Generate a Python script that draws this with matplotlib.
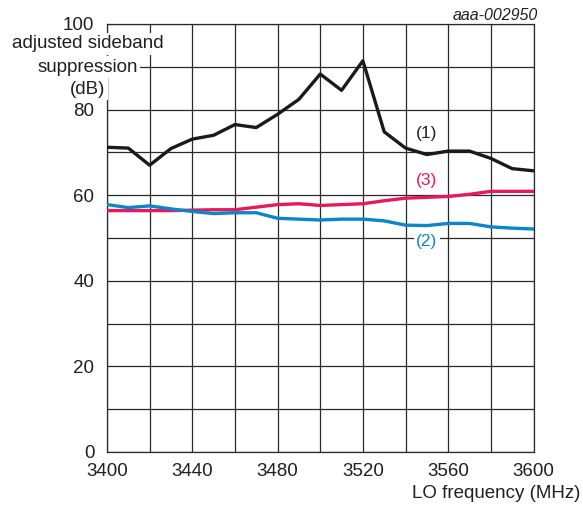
import matplotlib
matplotlib.use("Agg")
import matplotlib.pyplot as plt

plt.rcParams['font.family'] = ['Liberation Sans', 'DejaVu Sans']

freq = list(range(3400, 3601, 10))
curve1 = [71.2, 71.0, 67.0, 70.9, 73.1, 74.0, 76.5, 75.8, 78.9, 82.4, 88.3,
          84.5, 91.4, 74.8, 71.0, 69.5, 70.3, 70.3, 68.6, 66.2, 65.7]
curve2 = [57.8, 57.1, 57.5, 56.8, 56.2, 55.7, 55.9, 55.9, 54.6, 54.4, 54.2,
          54.4, 54.4, 54.0, 53.0, 52.9, 53.4, 53.4, 52.6, 52.3, 52.1]
curve3 = [56.4, 56.4, 56.4, 56.4, 56.5, 56.6, 56.6, 57.2, 57.8, 58.0, 57.6,
          57.8, 58.0, 58.7, 59.3, 59.5, 59.7, 60.2, 60.9, 60.9, 60.9]

xticks = [3400, 3440, 3480, 3520, 3560, 3600]
yticks = [0, 20, 40, 60, 80, 100]

txt = '#231f20'
fig = plt.figure(figsize=(5.83, 5.07), dpi=100)
ax = fig.add_axes([0.1835, 0.1085, 0.7316, 0.8442])

ax.plot(freq, curve1, color='#1a1a1a', lw=2.4, zorder=3)
ax.plot(freq, curve3, color='#e8185c', lw=2.4, zorder=3)
ax.plot(freq, curve2, color='#0a87c8', lw=2.4, zorder=3)

ax.set_xlim(3400, 3600)
ax.set_ylim(0, 100)
ax.set_xticks(range(3400, 3601, 20))
ax.set_yticks(range(0, 101, 10))
ax.grid(True, color='#2a2a2a', lw=0.9)
ax.set_xticklabels([str(v) if v in xticks else '' for v in range(3400, 3601, 20)])
ax.set_yticklabels([str(v) if v in yticks else '' for v in range(0, 101, 10)])
ax.tick_params(length=0, labelsize=13.5, labelcolor=txt)
ax.tick_params(axis='x', pad=8)
ax.tick_params(axis='y', pad=9)
for s in ax.spines.values():
    s.set_color('#2a2a2a')
    s.set_linewidth(0.9)

ax.text(3550, 74.3, '(1)', color=txt, fontsize=12.5, ha='center', va='center')
ax.text(3550, 63.4, '(3)', color='#e8185c', fontsize=12.5, ha='center', va='center')
ax.text(3550, 49.2, '(2)', color='#0a87c8', fontsize=12.5, ha='center', va='center',
        bbox=dict(facecolor='white', edgecolor='none', pad=1.5), zorder=4)

for label, yy in [('adjusted sideband', 44), ('suppression', 67), ('(dB)', 89)]:
    fig.text(88 / 583, 1 - yy / 507, label, color=txt, fontsize=13.5,
             ha='center', va='center',
             bbox=dict(facecolor='white', edgecolor='none', pad=1.5), zorder=5)

fig.text(580 / 583, 1 - 493 / 507, 'LO frequency (MHz)', color=txt, fontsize=13.5,
         ha='right', va='center')
fig.text(538 / 583, 1 - 15 / 507, 'aaa-002950', color=txt, fontsize=11.5,
         style='italic', ha='right', va='center')

fig.savefig('out.png', dpi=100)
